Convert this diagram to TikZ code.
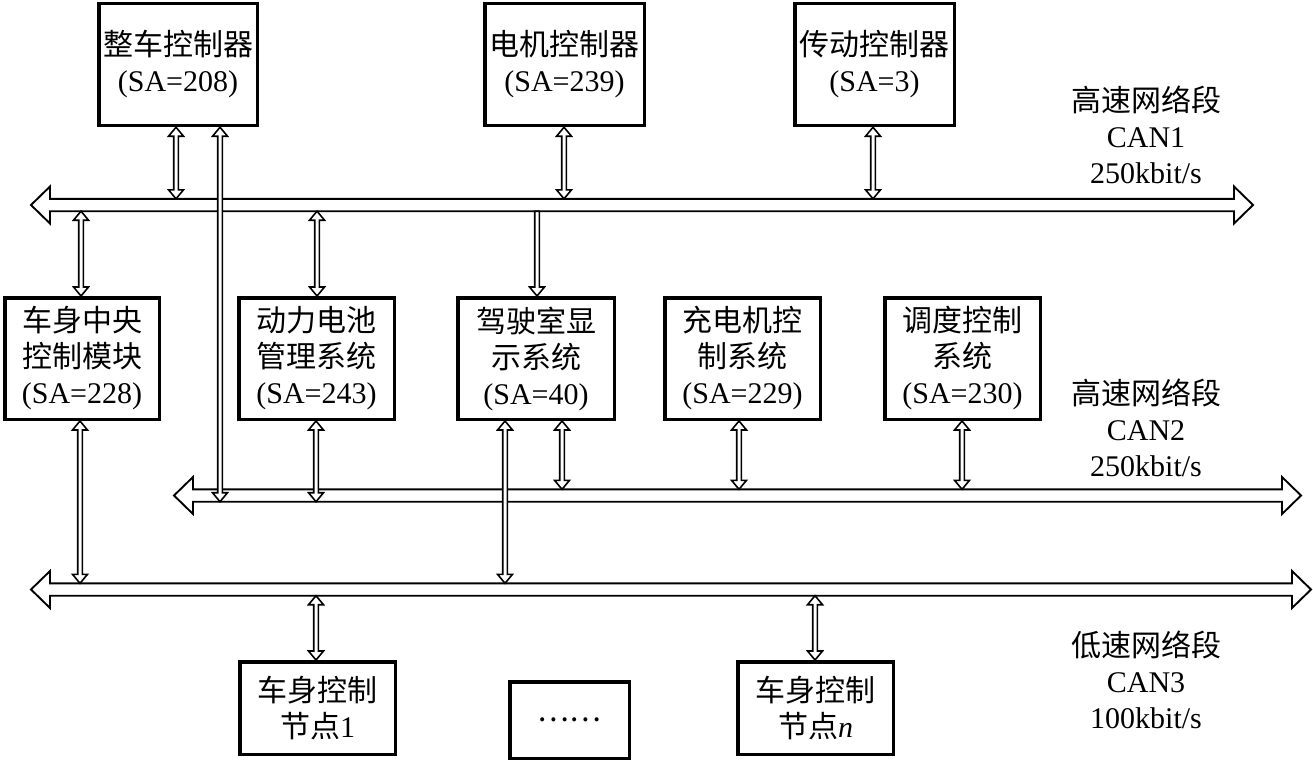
\documentclass[tikz,border=0pt]{standalone}
\usepackage{fontspec}
\setmainfont{Liberation Serif}
\newfontfamily\cjk{Noto Sans CJK SC}
\usetikzlibrary{calc}
\tikzset{
  box/.style={draw, line width=3.5pt, fill=white, align=center, inner sep=0pt,
    font=\fontsize{30}{36}\selectfont},
  lbl/.style={align=center, inner sep=0pt, font=\fontsize{30}{36}\selectfont},
  conn/.style={draw, line width=1.6pt, fill=white, line join=miter},
  busline/.style={draw, line width=1.9pt, fill=white, line join=miter}
}
% double-headed vertical connector: #1 = x (px), #2 = upper point, #3 = lower point
\newcommand\dblconn[3]{%
  \path[conn] let \p1=(#2), \p2=(#3) in
    (#1pt,\y1) -- (#1pt+7.5pt,\y1-9pt) -- (#1pt+2.3pt,\y1-9pt) -- (#1pt+2.3pt,\y2+9pt)
    -- (#1pt+7.5pt,\y2+9pt) -- (#1pt,\y2) -- (#1pt-7.5pt,\y2+9pt) -- (#1pt-2.3pt,\y2+9pt)
    -- (#1pt-2.3pt,\y1-9pt) -- (#1pt-7.5pt,\y1-9pt) -- cycle;}
% single-headed (downward) connector
\newcommand\downconn[3]{%
  \path[conn] let \p1=(#2), \p2=(#3) in
    (#1pt-2.3pt,\y1) -- (#1pt+2.3pt,\y1) -- (#1pt+2.3pt,\y2+9pt)
    -- (#1pt+7.5pt,\y2+9pt) -- (#1pt,\y2) -- (#1pt-7.5pt,\y2+9pt) -- (#1pt-2.3pt,\y2+9pt) -- cycle;}
% bus: double-headed horizontal block arrow between #1 (left tip) and #2 (right tip)
\newcommand\busarrow[2]{%
  \path[busline] let \p1=(#1), \p2=(#2) in
    (\x1,\y1) -- (\x1+19pt,\y1+18.5pt) -- (\x1+19pt,\y1+6.2pt) -- (\x2-19pt,\y1+6.2pt)
    -- (\x2-19pt,\y1+18.5pt) -- (\x2,\y1) -- (\x2-19pt,\y1-18.5pt) -- (\x2-19pt,\y1-6.2pt)
    -- (\x1+19pt,\y1-6.2pt) -- (\x1+19pt,\y1-18.5pt) -- cycle;}
\begin{document}
\begin{tikzpicture}[x=1pt,y=-1pt]
\useasboundingbox[fill=white] (0,0) rectangle (1313,762);

% bus end points and edges
\coordinate (b1L) at (31,205);  \coordinate (b1R) at (1253,205);
\coordinate (b2L) at (174,495.5); \coordinate (b2R) at (1301,495.5);
\coordinate (b3L) at (31,589.5); \coordinate (b3R) at (1311,589.5);
\coordinate (b1t) at (0,198.8); \coordinate (b1b) at (0,211.2);
\coordinate (b2t) at (0,489.3); \coordinate (b2b) at (0,501.7);
\coordinate (b3t) at (0,583.3); \coordinate (b3b) at (0,595.7);

% buses
\busarrow{b1L}{b1R}
\busarrow{b2L}{b2R}
\busarrow{b3L}{b3R}

% nodes
\node[box, minimum width=158.5pt, minimum height=122pt] (zc) at (178,64.5)
  {{\cjk 整车控制器}\\(SA=208)};
\node[box, minimum width=159.5pt, minimum height=122pt] (dj) at (564.5,64.5)
  {{\cjk 电机控制器}\\(SA=239)};
\node[box, minimum width=159.5pt, minimum height=122pt] (cd) at (874.5,64.5)
  {{\cjk 传动控制器}\\(SA=3)};

\node[box, minimum width=154.5pt, minimum height=121.5pt] (cs) at (82,358.5)
  {{\cjk 车身中央}\\{\cjk 控制模块}\\(SA=228)};
\node[box, minimum width=155.5pt, minimum height=121.5pt] (dl) at (316.5,358.5)
  {{\cjk 动力电池}\\{\cjk 管理系统}\\(SA=243)};
\node[box, minimum width=156.5pt, minimum height=121.5pt] (js) at (536,358.5)
  {{\cjk 驾驶室显}\\{\cjk 示系统}\\(SA=40)};
\node[box, minimum width=155.5pt, minimum height=121.5pt] (cdj) at (742.5,358.5)
  {{\cjk 充电机控}\\{\cjk 制系统}\\(SA=229)};
\node[box, minimum width=155.5pt, minimum height=121.5pt] (dd) at (962.5,358.5)
  {{\cjk 调度控制}\\{\cjk 系统}\\(SA=230)};

\node[box, minimum width=155.5pt, minimum height=92.5pt] (n1) at (317.5,708)
  {{\cjk 车身控制}\\{\cjk 节点}1};
\node[box, minimum width=119.5pt, minimum height=76.5pt] (dots) at (569.5,720)
  {{\cjk ……}};
\node[box, minimum width=155.5pt, minimum height=92.5pt] (nn) at (815.5,708)
  {{\cjk 车身控制}\\{\cjk 节点}\textit{n}};

% labels
\node[lbl] (l1) at (1146,135) {{\cjk 高速网络段}\\CAN1\\250kbit/s};
\node[lbl] (l2) at (1146,428) {{\cjk 高速网络段}\\CAN2\\250kbit/s};
\node[lbl] (l3) at (1146,680) {{\cjk 低速网络段}\\CAN3\\100kbit/s};

% connectors
\dblconn{176}{zc.south}{b1t}
\dblconn{220}{zc.south}{b2b}
\dblconn{564}{dj.south}{b1t}
\dblconn{873}{cd.south}{b1t}
\dblconn{81}{b1b}{cs.north}
\dblconn{317}{b1b}{dl.north}
\downconn{537}{b1b}{js.north}
\dblconn{80}{cs.south}{b3t}
\dblconn{316}{dl.south}{b2b}
\dblconn{505}{js.south}{b3t}
\dblconn{562}{js.south}{b2t}
\dblconn{739}{cdj.south}{b2t}
\dblconn{962}{dd.south}{b2t}
\dblconn{316}{b3b}{n1.north}
\dblconn{815}{b3b}{nn.north}
\end{tikzpicture}
\end{document}
